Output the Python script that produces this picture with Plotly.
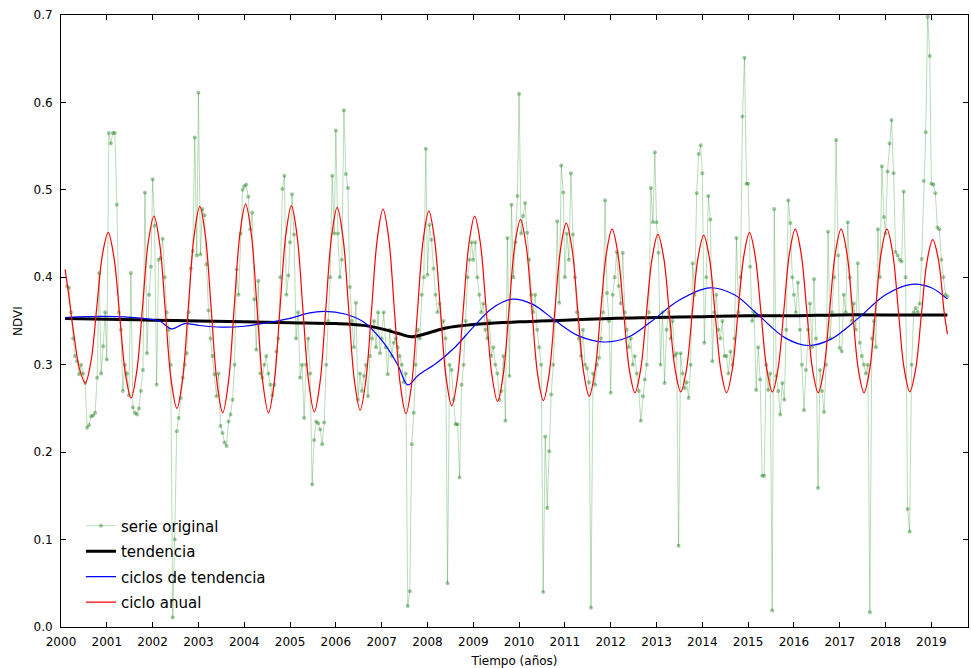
import numpy as np
import plotly.graph_objects as go

# ---------------- DATA ----------------
# MODIS-like 16-day composites: day-of-year of each composite
doys = [1, 17, 33, 49, 65, 81, 97, 113, 129, 145, 161, 177, 193, 209, 225, 241,
        257, 273, 289, 305, 321, 337, 353]

# NDVI "serie original", one list per year (2000 starts at DOY 49, 2019 ends at DOY 129)
ndvi_2000 = [0.390, 0.388, 0.360, 0.330, 0.310, 0.304, 0.289, 0.300, 0.290, 0.279,
             0.228, 0.231, 0.241, 0.242, 0.245, 0.285, 0.405, 0.290, 0.321, 0.360]
ndvi_2001 = [0.306, 0.565, 0.553, 0.565, 0.565, 0.483, 0.360, 0.340, 0.270, 0.300, 0.290, 0.265,
             0.405, 0.251, 0.245, 0.243, 0.250, 0.270, 0.294, 0.497, 0.313, 0.380, 0.412]
ndvi_2002 = [0.512, 0.459, 0.277, 0.420, 0.422, 0.444, 0.400, 0.360, 0.340, 0.300, 0.011, 0.100,
             0.224, 0.239, 0.262, 0.285, 0.300, 0.313, 0.360, 0.410, 0.430, 0.560, 0.425]
ndvi_2003 = [0.611, 0.426, 0.478, 0.471, 0.415, 0.362, 0.330, 0.310, 0.289, 0.264, 0.290, 0.230,
             0.222, 0.211, 0.207, 0.235, 0.243, 0.260, 0.300, 0.409, 0.380, 0.450, 0.500]
ndvi_2004 = [0.504, 0.506, 0.492, 0.455, 0.474, 0.375, 0.317, 0.396, 0.290, 0.285, 0.300, 0.310,
             0.290, 0.277, 0.265, 0.277, 0.315, 0.330, 0.400, 0.501, 0.516, 0.380, 0.402]
ndvi_2005 = [0.440, 0.495, 0.449, 0.330, 0.360, 0.285, 0.300, 0.239, 0.300, 0.330, 0.290, 0.163,
             0.214, 0.235, 0.233, 0.226, 0.209, 0.234, 0.300, 0.350, 0.400, 0.516, 0.450]
ndvi_2006 = [0.568, 0.450, 0.400, 0.420, 0.591, 0.518, 0.502, 0.389, 0.350, 0.320, 0.371, 0.260,
             0.290, 0.270, 0.287, 0.300, 0.264, 0.310, 0.330, 0.350, 0.320, 0.360, 0.313]
ndvi_2007 = [0.330, 0.360, 0.320, 0.289, 0.340, 0.310, 0.325, 0.330, 0.320, 0.310, 0.300, 0.280,
             0.290, 0.024, 0.041, 0.209, 0.245, 0.300, 0.340, 0.330, 0.380, 0.400, 0.547]
ndvi_2008 = [0.403, 0.460, 0.443, 0.410, 0.380, 0.360, 0.370, 0.340, 0.350, 0.330, 0.050, 0.300,
             0.294, 0.260, 0.232, 0.232, 0.171, 0.277, 0.300, 0.350, 0.400, 0.420, 0.440]
ndvi_2009 = [0.420, 0.440, 0.400, 0.380, 0.360, 0.370, 0.340, 0.330, 0.350, 0.310, 0.320, 0.300,
             0.290, 0.260, 0.270, 0.310, 0.236, 0.445, 0.287, 0.483, 0.400, 0.440, 0.493]
ndvi_2010 = [0.610, 0.450, 0.470, 0.485, 0.451, 0.420, 0.380, 0.360, 0.380, 0.340, 0.320, 0.300,
             0.040, 0.218, 0.136, 0.201, 0.266, 0.300, 0.350, 0.464, 0.371, 0.528, 0.497]
ndvi_2011 = [0.400, 0.450, 0.420, 0.519, 0.449, 0.400, 0.360, 0.330, 0.310, 0.340, 0.300, 0.296,
             0.280, 0.022, 0.290, 0.277, 0.300, 0.308, 0.330, 0.360, 0.488, 0.382, 0.350]
ndvi_2012 = [0.268, 0.380, 0.400, 0.429, 0.390, 0.370, 0.428, 0.360, 0.340, 0.320, 0.330, 0.300,
             0.310, 0.290, 0.270, 0.236, 0.264, 0.283, 0.300, 0.360, 0.502, 0.463, 0.543]
ndvi_2013 = [0.463, 0.428, 0.300, 0.360, 0.279, 0.340, 0.360, 0.330, 0.350, 0.310, 0.313, 0.093,
             0.313, 0.290, 0.273, 0.280, 0.262, 0.300, 0.416, 0.380, 0.496, 0.541, 0.551]
ndvi_2014 = [0.519, 0.325, 0.400, 0.493, 0.466, 0.304, 0.360, 0.380, 0.340, 0.330, 0.350, 0.310,
             0.310, 0.290, 0.315, 0.300, 0.330, 0.445, 0.360, 0.400, 0.584, 0.651, 0.507]
ndvi_2015 = [0.507, 0.412, 0.350, 0.360, 0.271, 0.320, 0.283, 0.173, 0.173, 0.300, 0.271, 0.290,
             0.019, 0.478, 0.287, 0.270, 0.243, 0.279, 0.260, 0.340, 0.488, 0.462, 0.400]
ndvi_2016 = [0.380, 0.360, 0.394, 0.340, 0.300, 0.248, 0.294, 0.340, 0.370, 0.320, 0.398, 0.330,
             0.159, 0.294, 0.270, 0.246, 0.300, 0.452, 0.330, 0.360, 0.400, 0.557, 0.425]
ndvi_2017 = [0.319, 0.315, 0.380, 0.360, 0.463, 0.400, 0.350, 0.370, 0.340, 0.416, 0.325, 0.310,
             0.300, 0.290, 0.300, 0.017, 0.330, 0.350, 0.320, 0.455, 0.400, 0.527, 0.469]
ndvi_2018 = [0.450, 0.521, 0.553, 0.580, 0.519, 0.429, 0.425, 0.420, 0.418, 0.498, 0.400, 0.135,
             0.109, 0.300, 0.360, 0.365, 0.360, 0.370, 0.421, 0.510, 0.566, 0.698, 0.653]
ndvi_2019 = [0.507, 0.506, 0.496, 0.457, 0.455, 0.420, 0.400, 0.380, 0.378]

years = list(range(2000, 2020))
ndvi_by_year = [ndvi_2000, ndvi_2001, ndvi_2002, ndvi_2003, ndvi_2004, ndvi_2005,
                ndvi_2006, ndvi_2007, ndvi_2008, ndvi_2009, ndvi_2010, ndvi_2011,
                ndvi_2012, ndvi_2013, ndvi_2014, ndvi_2015, ndvi_2016, ndvi_2017,
                ndvi_2018, ndvi_2019]
first_index = {2000: 3}   # 2000 series starts at DOY 49

# "ciclo anual": start value, then samples every 1/8 year from 2000.155, then end value
anual_start = (2000.09, 0.409)
anual_vals = [
    0.385, 0.335, 0.295, 0.279,                          # 2000
    0.304, 0.365, 0.426, 0.451, 0.423, 0.357, 0.290, 0.262,   # ->2001
    0.293, 0.366, 0.440, 0.470, 0.438, 0.360, 0.282, 0.250,   # ->2002
    0.284, 0.366, 0.447, 0.481, 0.446, 0.363, 0.280, 0.245,   # ->2003
    0.280, 0.365, 0.449, 0.484, 0.449, 0.365, 0.280, 0.245,   # ->2004
    0.280, 0.364, 0.447, 0.482, 0.447, 0.364, 0.281, 0.246,   # ->2005
    0.280, 0.363, 0.446, 0.480, 0.446, 0.364, 0.282, 0.248,   # ->2006
    0.282, 0.363, 0.444, 0.478, 0.444, 0.361, 0.278, 0.244,   # ->2007
    0.278, 0.360, 0.442, 0.476, 0.443, 0.365, 0.286, 0.253,   # ->2008
    0.285, 0.362, 0.438, 0.470, 0.439, 0.364, 0.289, 0.258,   # ->2009
    0.289, 0.362, 0.436, 0.466, 0.436, 0.363, 0.289, 0.259,   # ->2010
    0.289, 0.361, 0.432, 0.462, 0.433, 0.363, 0.293, 0.264,   # ->2011
    0.292, 0.360, 0.427, 0.455, 0.428, 0.362, 0.295, 0.268,   # ->2012
    0.295, 0.359, 0.422, 0.449, 0.423, 0.359, 0.295, 0.269,   # ->2013
    0.295, 0.359, 0.422, 0.448, 0.422, 0.358, 0.294, 0.268,   # ->2014
    0.295, 0.360, 0.424, 0.451, 0.424, 0.360, 0.296, 0.269,   # ->2015
    0.296, 0.362, 0.428, 0.455, 0.428, 0.362, 0.295, 0.268,   # ->2016
    0.295, 0.362, 0.428, 0.455, 0.428, 0.362, 0.295, 0.268,   # ->2017
    0.295, 0.362, 0.428, 0.455, 0.428, 0.362, 0.296, 0.269,   # ->2018
    0.294, 0.356, 0.418, 0.443, 0.420, 0.360,                 # ->2019
]
anual_end = (2019.35, 0.335)

# "tendencia"
tend_t = [2000.09, 2001.0, 2002.0, 2003.0, 2004.0, 2005.0, 2006.0, 2006.6, 2007.0,
          2007.35, 2007.65, 2008.0, 2008.4, 2009.0, 2010.0, 2011.0, 2012.0, 2013.0,
          2014.0, 2015.0, 2016.0, 2017.0, 2018.0, 2019.35]
tend_v = [0.353, 0.352, 0.351, 0.350, 0.349, 0.348, 0.347, 0.345, 0.341,
          0.336, 0.332, 0.336, 0.342, 0.346, 0.349, 0.351, 0.353, 0.354,
          0.355, 0.356, 0.356, 0.357, 0.357, 0.357]

# "ciclos de tendencia"
ciclo_t = [2000.09, 2000.6, 2001.2, 2001.8, 2002.15, 2002.42, 2002.7, 2003.0, 2003.5,
           2004.0, 2004.5, 2005.0, 2005.4, 2005.75, 2006.2, 2006.6, 2007.0, 2007.35,
           2007.57, 2007.8, 2008.2, 2008.6, 2009.0, 2009.4, 2009.85, 2010.3, 2010.8,
           2011.3, 2011.87, 2012.4, 2012.9, 2013.5, 2014.16, 2014.7, 2015.2, 2015.8,
           2016.3, 2016.8, 2017.4, 2018.0, 2018.57, 2019.0, 2019.35]
ciclo_v = [0.354, 0.355, 0.355, 0.353, 0.350, 0.341, 0.347, 0.345, 0.343,
           0.344, 0.348, 0.353, 0.359, 0.361, 0.358, 0.349, 0.328, 0.300,
           0.277, 0.288, 0.302, 0.320, 0.343, 0.364, 0.375, 0.369, 0.350,
           0.333, 0.326, 0.332, 0.350, 0.374, 0.388, 0.380, 0.358, 0.331,
           0.322, 0.329, 0.353, 0.380, 0.392, 0.388, 0.375]

xtick_vals = list(range(2000, 2020))
xtick_text = [str(y) for y in xtick_vals]
ytick_vals = [0.0, 0.1, 0.2, 0.3, 0.4, 0.5, 0.6, 0.7]

# ---------------- BUILD ----------------
orig_t, orig_v = [], []
for y, vals in zip(years, ndvi_by_year):
    start = first_index.get(y, 0)
    for k, v in enumerate(vals):
        orig_t.append(y + (doys[start + k] - 1) / 365.0)
        orig_v.append(v)

anual_t = [anual_start[0]] + list(2000.155 + 0.125 * np.arange(len(anual_vals))) + [anual_end[0]]
anual_v = [anual_start[1]] + anual_vals + [anual_end[1]]

fig = go.Figure()
fig.add_trace(go.Scatter(
    x=orig_t, y=orig_v, mode="lines+markers", name="serie original",
    legendgroup="a",
    line=dict(color="rgba(0,128,0,0.28)", width=1),
    marker=dict(color="rgba(0,110,0,0.38)", size=4, line=dict(width=0)),
))
fig.add_trace(go.Scatter(
    x=tend_t, y=tend_v, mode="lines", name="tendencia", legendgroup="b",
    line=dict(color="black", width=3, shape="spline"),
))
fig.add_trace(go.Scatter(
    x=ciclo_t, y=ciclo_v, mode="lines", name="ciclos de tendencia", legendgroup="c",
    line=dict(color="#0000ff", width=1.2, shape="spline"),
))
fig.add_trace(go.Scatter(
    x=anual_t, y=anual_v, mode="lines", name="ciclo anual", legendgroup="d",
    line=dict(color="#ff0000", width=1.2, shape="spline"),
))

axis_common = dict(
    showline=True, linecolor="black", linewidth=1, mirror="ticks",
    ticks="inside", ticklen=5, tickcolor="black", tickwidth=1,
    showgrid=False, zeroline=False,
    tickfont=dict(family="DejaVu Sans", size=12, color="black"),
)
fig.update_xaxes(range=[2000, 2019.8], tickmode="array", tickvals=xtick_vals,
                 ticktext=xtick_text,
                 title=dict(text="Tiempo (años)", font=dict(family="DejaVu Sans", size=12),
                            standoff=8),
                 ticklabelstandoff=4, **axis_common)
fig.update_yaxes(range=[0, 0.7], tickmode="array", tickvals=ytick_vals, tickformat=".1f",
                 title=dict(text="NDVI", font=dict(family="DejaVu Sans", size=12),
                            standoff=8),
                 ticklabelstandoff=5, **axis_common)

fig.update_layout(
    width=971, height=668,
    margin=dict(l=61, r=3, t=15, b=41),
    paper_bgcolor="white", plot_bgcolor="white",
    font=dict(family="DejaVu Sans", size=12, color="black"),
    showlegend=True,
    legend=dict(x=0.022, y=0.014, xanchor="left", yanchor="bottom",
                bgcolor="rgba(0,0,0,0)", borderwidth=0,
                font=dict(family="DejaVu Sans", size=15, color="black"),
                tracegroupgap=3, traceorder="grouped"),
)

fig.write_html("out.html")
